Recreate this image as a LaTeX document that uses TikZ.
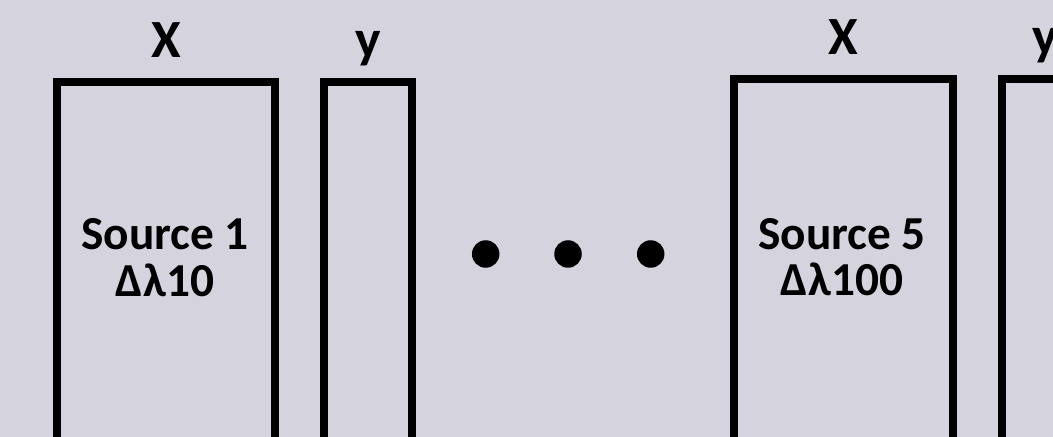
\documentclass[tikz,border=0pt]{standalone}
\usepackage{fontspec}
\setmainfont{Carlito}
\definecolor{bg}{RGB}{212,211,222}
\tikzset{
  boxframe/.style={draw=black, line width=8bp, minimum height=420bp, inner sep=0pt, outer sep=0pt, anchor=north west},
  lbl/.style={font=\bfseries\fontsize{54}{60}\selectfont, inner sep=0pt, anchor=base},
  srctext/.style={font=\bfseries\fontsize{47.5}{47}\selectfont, inner sep=0pt, align=center, anchor=base},
  dotmark/.style={circle, fill=black, minimum size=27.5bp, inner sep=0pt}
}
\begin{document}
\begin{tikzpicture}[x=1bp, y=-1bp]
\path[use as bounding box, fill=bg] (0,0) rectangle (1053,437);
\clip (0,0) rectangle (1053,437);
\node[boxframe, minimum width=218.5bp] (x1) at (56.5,82) {};
\node[boxframe, minimum width=88bp] (y1) at (324,82) {};
\node[boxframe, minimum width=219bp] (x2) at (733.5,79) {};
\node[boxframe, minimum width=88bp] (y2) at (1001.5,79) {};
\node[lbl] (lx1) at (166,58) {X};
\node[lbl] (ly1) at (368,58) {y};
\node[lbl] (lx2) at (843,55) {X};
\node[lbl] (ly2) at (1045.5,55) {y};
\node[srctext] (s1) at (165,296.5) {Source 1\\Δλ10};
\node[srctext] (s5) at (842,296) {Source 5\\Δλ100};
\node[dotmark] (d1) at (485.7,254) {};
\node[dotmark] (d2) at (568,254) {};
\node[dotmark] (d3) at (650.7,254) {};
\end{tikzpicture}
\end{document}
